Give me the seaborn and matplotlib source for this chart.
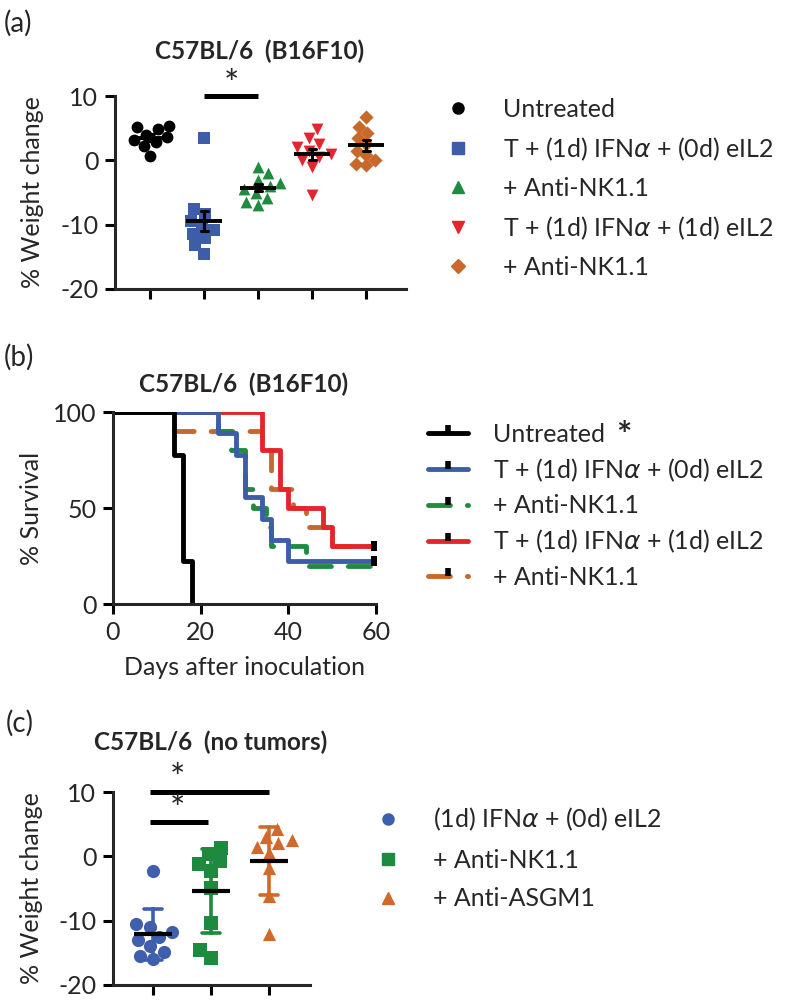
import numpy as np
import pandas as pd
import matplotlib
matplotlib.use("Agg")
import matplotlib.pyplot as plt
from matplotlib.lines import Line2D
import seaborn as sns

# ---------------- data ----------------
# (a) % weight change, B16F10-bearing C57BL/6 mice
labels_a = ["Untreated", "T + (1d) IFN$\\alpha$ + (0d) eIL2", "+ Anti-NK1.1",
            "T + (1d) IFN$\\alpha$ + (1d) eIL2", "+ Anti-NK1.1"]
keys_a = ["g0", "g1", "g2", "g3", "g4"]
colors_a = ["#000000", "#3D5DA8", "#1F8B3F", "#E3262E", "#C8682B"]
markers_a = ["o", "s", "^", "v", "D"]
untreated_a = [5.4, 5.2, 4.8, 4.0, 3.6, 3.2, 2.8, 2.2, 0.6]
t_0d_a = [3.5, -7.6, -8.4, -9.5, -10.2, -10.8, -11.4, -12.0, -13.2, -14.5]
t_0d_nk_a = [-1.0, -2.0, -3.0, -3.5, -4.0, -4.5, -5.0, -5.8, -6.5, -7.0]
t_1d_a = [4.9, 3.5, 2.5, 2.0, 1.5, 1.0, 0.5, 0.0, -1.0, -5.4]
t_1d_nk_a = [6.7, 5.2, 4.2, 3.5, 2.5, 1.5, 0.8, 0.0, -0.8, -0.5]

# (b) survival (%), step points
labels_b = ["Untreated", "T + (1d) IFN$\\alpha$ + (0d) eIL2", "+ Anti-NK1.1",
            "T + (1d) IFN$\\alpha$ + (1d) eIL2", "+ Anti-NK1.1"]
colors_b = ["#000000", "#3D5DA8", "#1F8B3F", "#E3262E", "#C8682B"]
days_untreated = [0, 14, 16, 18]
surv_untreated = [100, 77.8, 22.2, 0]
days_0d = [0, 24, 28, 30, 34, 36, 40, 60]
surv_0d = [100, 88.9, 77.8, 55.6, 44.4, 33.3, 22.2, 22.2]
days_0d_nk = [0, 24, 27, 30, 32, 35, 36, 44, 60]
surv_0d_nk = [100, 90, 80, 60, 50, 40, 30, 20, 20]
days_1d = [0, 34, 38, 40, 48, 50, 60]
surv_1d = [100, 80, 60, 50, 40, 30, 30]
days_1d_nk = [0, 14, 34, 36, 41, 44, 50, 60]
surv_1d_nk = [100, 90, 80, 60, 50, 40, 30, 30]

# (c) % weight change, tumor-free C57BL/6 mice
labels_c = ["(1d) IFN$\\alpha$ + (0d) eIL2", "+ Anti-NK1.1", "+ Anti-ASGM1"]
keys_c = ["c0", "c1", "c2"]
colors_c = ["#3F5FAE", "#1D8A40", "#D0692A"]
markers_c = ["o", "s", "^"]
ifn_c = [-2.3, -10.5, -11.0, -11.8, -12.5, -13.0, -14.0, -14.8, -15.5, -16.0]
ifn_nk_c = [1.3, 0.3, -0.8, -1.2, -2.3, -4.9, -10.4, -14.5, -15.8]
ifn_asgm_c = [4.3, 3.0, 2.5, 2.0, 1.5, 0.5, -1.8, -6.2, -12.0]

# ---------------- style ----------------
sns.set_style("ticks")
plt.rcParams["font.family"] = ["Lato", "DejaVu Sans"]
plt.rcParams["axes.unicode_minus"] = False
plt.rcParams["axes.linewidth"] = 2.2
plt.rcParams["mathtext.fontset"] = "dejavusans"

W, H = 800, 1002
fig = plt.figure(figsize=(W / 100, H / 100), dpi=100)


def rect(l, t, r, b):
    return [l / W, 1 - b / H, (r - l) / W, (b - t) / H]


def fxy(x, y):
    return x / W, 1 - y / H


FS = 18
STAR = 26


def style_axes(ax):
    sns.despine(ax=ax)
    ax.tick_params(width=2.2, length=7, labelsize=FS, pad=5, color="black")
    for s in ax.spines.values():
        s.set_linewidth(2.2)


def weight_panel(ax, keys, series, colors, markers, size, errorbar, capsize,
                 err_colored):
    df = pd.concat([pd.DataFrame({"group": k, "value": v})
                    for k, v in zip(keys, series)], ignore_index=True)
    for k, c, m in zip(keys, colors, markers):
        msize = size * 0.85 if m == "D" else size
        sns.swarmplot(data=df[df.group == k], x="group", y="value", order=keys,
                      color=c, marker=m, size=msize, ax=ax, zorder=1)
    if err_colored:
        sns.pointplot(data=df, x="group", y="value", order=keys, hue="group",
                      hue_order=keys, palette=colors, errorbar=errorbar,
                      capsize=capsize, markersize=0, linestyle="none",
                      err_kws={"linewidth": 2.6}, legend=False, ax=ax)
        sns.pointplot(data=df, x="group", y="value", order=keys, errorbar=None,
                      color="black", marker="_", markersize=28,
                      markeredgewidth=3, linestyle="none", ax=ax)
    else:
        sns.pointplot(data=df, x="group", y="value", order=keys,
                      errorbar=errorbar, capsize=capsize, color="black",
                      marker="_", markersize=26, markeredgewidth=2.8,
                      linestyle="none", err_kws={"linewidth": 2.2}, ax=ax)
    ax.set_xlabel("")
    ax.set_xticks(range(len(keys)))
    ax.set_xticklabels([])
    ax.set_ylim(-20, 10)
    ax.set_yticks([-20, -10, 0, 10])


# ---------------- (a) ----------------
ax_a = fig.add_axes(rect(115, 96, 406, 289))
weight_panel(ax_a, keys_a, [untreated_a, t_0d_a, t_0d_nk_a, t_1d_a, t_1d_nk_a],
             colors_a, markers_a, 8.5, "se", 0.13, False)
ax_a.set_xlim(-0.65, 4.74)
style_axes(ax_a)
ax_a.set_ylabel("% Weight change", fontsize=FS)
ax_a.yaxis.set_label_coords(-0.245, 0.5)
ax_a.plot([1, 2], [10, 10], color="black", lw=3.6, clip_on=False,
          solid_capstyle="butt")
ax_a.text(1.5, 11.6, "*", ha="center", va="center", fontsize=STAR)
handles_a = [Line2D([], [], color=c, marker=m, linestyle="none",
                    markersize=7 if m == "D" else 8)
             for c, m in zip(colors_a, markers_a)]
ax_a.legend(handles_a, labels_a, loc="upper left", frameon=False,
            bbox_to_anchor=fxy(433, 98), bbox_transform=fig.transFigure,
            fontsize=FS, borderpad=0, borderaxespad=0, handlelength=2,
            handletextpad=0.8, labelspacing=0.57)
fig.text(*fxy(260, 51), "C57BL/6  (B16F10)", ha="center", va="center",
         fontsize=17.5, fontweight="bold")
fig.text(*fxy(4, 23), "(a)", ha="left", va="center", fontsize=20)

# ---------------- (b) ----------------
ax_b = fig.add_axes(rect(113, 412, 376, 604))
curves = [
    (days_1d_nk, surv_1d_nk, colors_b[4], True),
    (days_0d_nk, surv_0d_nk, colors_b[2], True),
    (days_1d, surv_1d, colors_b[3], False),
    (days_0d, surv_0d, colors_b[1], False),
    (days_untreated, surv_untreated, colors_b[0], False),
]
dash = (0, (4.5, 3.5))
for d, s, c, dashed in curves:
    sns.lineplot(x=d, y=s, drawstyle="steps-post", color=c, lw=3.5,
                 linestyle=dash if dashed else "-", dash_capstyle="round",
                 ax=ax_b)
censor_days = [days_0d[-1], days_1d[-1]]
censor_surv = [surv_0d[-1], surv_1d[-1]]
sns.scatterplot(x=censor_days, y=censor_surv, marker="s", s=45, color="black",
                linewidth=0, ax=ax_b, zorder=5)
ax_b.set_xlim(0, 60)
ax_b.set_ylim(0, 100)
ax_b.set_xticks([0, 20, 40, 60])
ax_b.set_yticks([0, 50, 100])
style_axes(ax_b)
ax_b.set_ylabel("% Survival", fontsize=FS)
ax_b.yaxis.set_label_coords(-0.266, 0.5)
ax_b.set_xlabel("Days after inoculation", fontsize=FS)
ax_b.xaxis.set_label_coords(0.5, -0.27)
handles_b = [Line2D([0], [0], color=c, lw=3.5,
                    linestyle=dash if i in (2, 4) else "-",
                    dash_capstyle="round", marker=2, markersize=6,
                    markeredgewidth=4, markeredgecolor="black")
             for i, c in enumerate(colors_b)]
ax_b.legend(handles_b, labels_b, loc="upper left", frameon=False,
            bbox_to_anchor=fxy(428, 423), bbox_transform=fig.transFigure,
            fontsize=FS, borderpad=0, borderaxespad=0, handlelength=1.6,
            handletextpad=1.0, labelspacing=0.42, numpoints=1)
fig.text(*fxy(624, 436), "*", ha="center", va="center", fontsize=STAR,
         fontweight="bold")
fig.text(*fxy(244, 384), "C57BL/6  (B16F10)", ha="center", va="center",
         fontsize=17.5, fontweight="bold")
fig.text(*fxy(4, 357), "(b)", ha="left", va="center", fontsize=20)

# ---------------- (c) ----------------
ax_c = fig.add_axes(rect(113, 792, 310, 985))
weight_panel(ax_c, keys_c, [ifn_c, ifn_nk_c, ifn_asgm_c], colors_c, markers_c,
             9.5, "sd", 0.3, True)
ax_c.set_xlim(-0.69, 2.71)
style_axes(ax_c)
ax_c.set_ylabel("% Weight change", fontsize=FS)
ax_c.yaxis.set_label_coords(-0.355, 0.5)
ax_c.plot([-0.05, 2.0], [10, 10], color="black", lw=3.6, clip_on=False,
          solid_capstyle="butt")
ax_c.plot([-0.05, 0.95], [5.4, 5.4], color="black", lw=3.6, clip_on=False,
          solid_capstyle="butt")
ax_c.text(0.42, 11.9, "*", ha="center", va="center", fontsize=STAR)
ax_c.text(0.42, 7.1, "*", ha="center", va="center", fontsize=STAR)
handles_c = [Line2D([], [], color=c, marker=m, linestyle="none", markersize=8)
             for c, m in zip(colors_c, markers_c)]
ax_c.legend(handles_c, labels_c, loc="upper left", frameon=False,
            bbox_to_anchor=fxy(363, 806), bbox_transform=fig.transFigure,
            fontsize=FS, borderpad=0, borderaxespad=0, handlelength=2,
            handletextpad=0.8, labelspacing=0.62)
fig.text(*fxy(211, 742), "C57BL/6  (no tumors)", ha="center", va="center",
         fontsize=17.5, fontweight="bold")
fig.text(*fxy(6, 723), "(c)", ha="left", va="center", fontsize=20)

fig.savefig("out.png", dpi=100)
